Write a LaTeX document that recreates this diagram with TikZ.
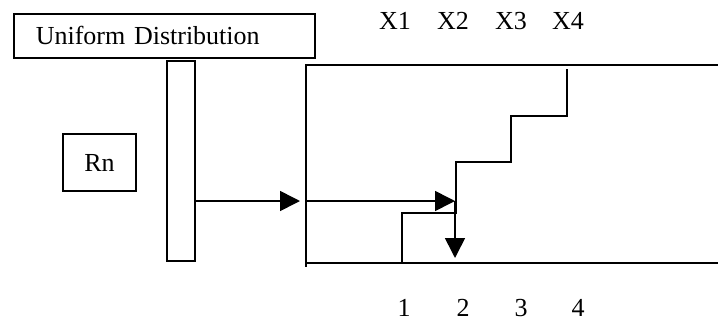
\documentclass[tikz,border=0pt]{standalone}
\usepackage{fontspec}
\setmainfont{Liberation Serif}
\usetikzlibrary{positioning,arrows.meta}

\begin{document}
\begin{tikzpicture}[x=1pt,y=-1pt,line width=1.6pt,
  lbl/.style={font=\fontsize{26}{30}\selectfont, inner sep=0pt},
  box/.style={draw, line width=1.6pt, lbl},
  flow/.style={-{Triangle[length=20pt,width=20pt]}}]
\useasboundingbox (0,0) rectangle (718,322);

% source boxes
\node[box, anchor=north west, minimum width=301pt, minimum height=44pt,
      text width=257pt, inner xsep=22pt, align=left] (unif) at (13,13) {Uniform Distribution};
\node[box, minimum width=73pt, minimum height=57pt] (rn) at (99.5,162.5) {Rn};
\node[draw, minimum width=28pt, minimum height=200pt, inner sep=0pt] (bar) at (181,161) {};

% frame of the distribution function
\coordinate (ftl) at (306,65);
\coordinate (fbl) at (306,263);
\draw (718,65) -- (ftl) -- (306,267);
\draw (fbl) -- (718,263);

% step function
\coordinate (s1) at (402,263);
\coordinate (s2) at (456,213);
\draw (s1) |- (s2) -- (456,162) -- (511,162) -- (511,116) -- (567,116) -- (567,69);

% arrows
\coordinate (in1) at (300,201);
\coordinate (in2) at (307,201);
\coordinate (hit) at (455,201);
\coordinate (out) at (455,258);
\draw[flow] (in1 -| bar.east) -- (in1);
\draw[flow] (in2) -- (hit);
\draw[flow] (hit) -- (out);

% labels
\foreach \i/\x in {1/395,2/453,3/511,4/568}
  \node[lbl] (x\i) at (\x,21) {X\i};
\foreach \i/\x in {1/404,2/463,3/521,4/578}
  \node[lbl] (n\i) at (\x,308) {\i};
\end{tikzpicture}
\end{document}
